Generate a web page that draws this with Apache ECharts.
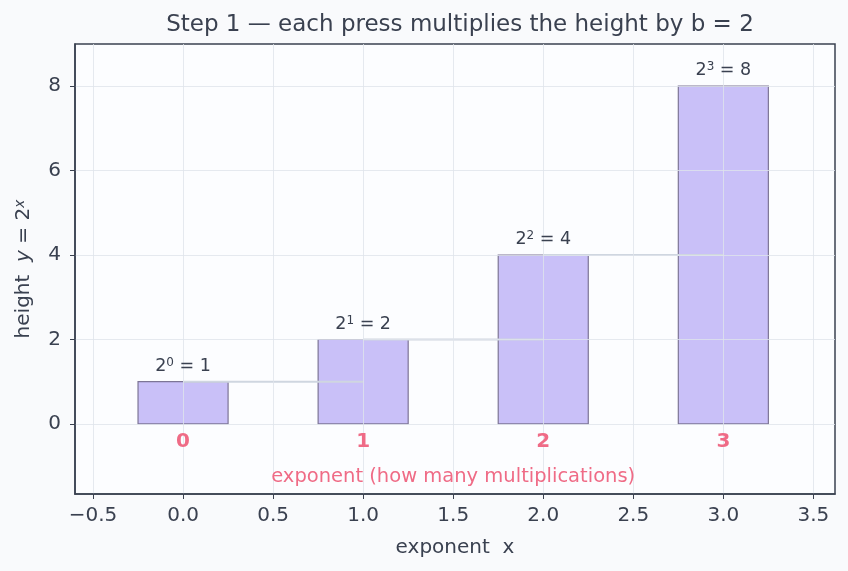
<!DOCTYPE html>
<html>
<head>
<meta charset="utf-8">
<script src="https://cdn.jsdelivr.net/npm/echarts@6/dist/echarts.min.js"></script>
<style>
html,body{margin:0;padding:0;background:#f9fafc;}
#chart{width:848px;height:571px;}
</style>
</head>
<body>
<div id="chart"></div>
<script>
// ---- data ----
const exponents = [0, 1, 2, 3];
const heights = [1, 2, 4, 8];
const xTicks = [-0.5, 0.0, 0.5, 1.0, 1.5, 2.0, 2.5, 3.0, 3.5];
const yTicks = [0, 2, 4, 6, 8];
const titleText = 'Step 1 \u2014 each press multiplies the height by b = 2';
const noteText = 'exponent (how many multiplications)';
const notePos = [1.5, -1.25];

const FONT = '"DejaVu Sans", Verdana, sans-serif';
const INK = '#3a4150';
const PINK = '#ef6b86';

const chart = echarts.init(document.getElementById('chart'));

const barData = exponents.map((x, i) => [x, heights[i]]);
const stepData = exponents.slice(0, -1).map((x, i) => [x, heights[i], exponents[i + 1]]);

const option = {
  backgroundColor: '#f9fafc',
  animation: false,
  title: {
    text: titleText, left: 455, top: 9, textAlign: 'center',
    textStyle: { fontFamily: FONT, fontSize: 23, fontWeight: 'normal', color: INK }
  },
  grid: {
    left: 75, right: 13, top: 44, bottom: 77,
    show: true, backgroundColor: '#fcfdff', borderColor: INK, borderWidth: 1.5
  },
  xAxis: {
    type: 'value', min: -0.6, max: 3.62, z: 5,
    name: 'exponent  x', nameLocation: 'middle', nameGap: 44,
    nameTextStyle: { fontFamily: FONT, fontSize: 20, color: INK },
    axisLine: { show: true, onZero: false, lineStyle: { color: INK, width: 1.5 } },
    axisTick: { show: true, length: 5, customValues: xTicks, lineStyle: { color: INK } },
    axisLabel: { customValues: xTicks, margin: 12, fontFamily: FONT, fontSize: 20, color: INK,
      formatter: v => (v < 0 ? '\u2212' : '') + Math.abs(v).toFixed(1) },
    splitLine: { show: true, lineStyle: { color: 'rgba(222,227,235,0.8)', width: 1 } }
  },
  yAxis: {
    type: 'value', min: -1.66, max: 9, z: 5,
    name: 'height  {i|y} = 2{sup|x}', nameLocation: 'middle', nameGap: 40,
    nameTextStyle: { fontFamily: FONT, fontSize: 20, color: INK,
      rich: {
        i: { fontFamily: FONT, fontSize: 20, fontStyle: 'italic', color: INK },
        sup: { fontFamily: FONT, fontSize: 14, fontStyle: 'italic', color: INK, verticalAlign: 'top', padding: [0, 0, 8, 0] }
      } },
    axisLine: { show: true, onZero: false, lineStyle: { color: INK, width: 1.5 } },
    axisTick: { show: true, length: 5, customValues: yTicks, lineStyle: { color: INK } },
    axisLabel: { customValues: yTicks, margin: 14, fontFamily: FONT, fontSize: 20, color: INK },
    splitLine: { show: true, lineStyle: { color: 'rgba(222,227,235,0.8)', width: 1 } }
  },
  series: [
    {
      type: 'custom', z: 2,
      data: barData,
      renderItem: (params, api) => {
        const x = api.value(0), y = api.value(1);
        const p0 = api.coord([x - 0.25, y]);
        const p1 = api.coord([x + 0.25, 0]);
        return {
          type: 'rect',
          shape: { x: p0[0], y: p0[1], width: p1[0] - p0[0], height: p1[1] - p0[1] },
          style: { fill: '#c9c0f8', stroke: '#7d7596', lineWidth: 1.2 }
        };
      }
    },
    {
      type: 'custom', z: 3,
      data: stepData,
      renderItem: (params, api) => {
        const a = api.coord([api.value(0), api.value(1)]);
        const b = api.coord([api.value(2), api.value(1)]);
        return {
          type: 'line',
          shape: { x1: a[0], y1: a[1], x2: b[0], y2: b[1] },
          style: { stroke: '#cfd6e0', lineWidth: 2 }
        };
      }
    },
    {
      type: 'custom', z: 6,
      data: barData,
      renderItem: (params, api) => {
        const x = api.value(0), y = api.value(1);
        const top = api.coord([x, y]);
        const base = api.coord([x, 0]);
        return {
          type: 'group',
          children: [
            {
              type: 'text',
              style: {
                x: top[0], y: top[1] - 6,
                text: '2{sup|' + x + '} = ' + y,
                align: 'center', verticalAlign: 'bottom',
                fontFamily: FONT, fontSize: 17.5, fill: INK,
                rich: { sup: { fontFamily: FONT, fontSize: 12, fill: INK, verticalAlign: 'top', padding: [0, 0, 7, 0] } }
              }
            },
            {
              type: 'text',
              style: {
                x: base[0], y: base[1] + 18,
                text: String(x), align: 'center', verticalAlign: 'middle',
                fontFamily: FONT, fontSize: 20, fontWeight: 'bold', fill: PINK
              }
            }
          ]
        };
      }
    },
    {
      type: 'custom', z: 6,
      data: [notePos],
      renderItem: (params, api) => {
        const p = api.coord([api.value(0), api.value(1)]);
        return {
          type: 'text',
          style: { x: p[0], y: p[1], text: noteText, align: 'center', verticalAlign: 'middle',
            fontFamily: FONT, fontSize: 19.5, fill: PINK }
        };
      }
    }
  ]
};
chart.setOption(option);
</script>
</body>
</html>
